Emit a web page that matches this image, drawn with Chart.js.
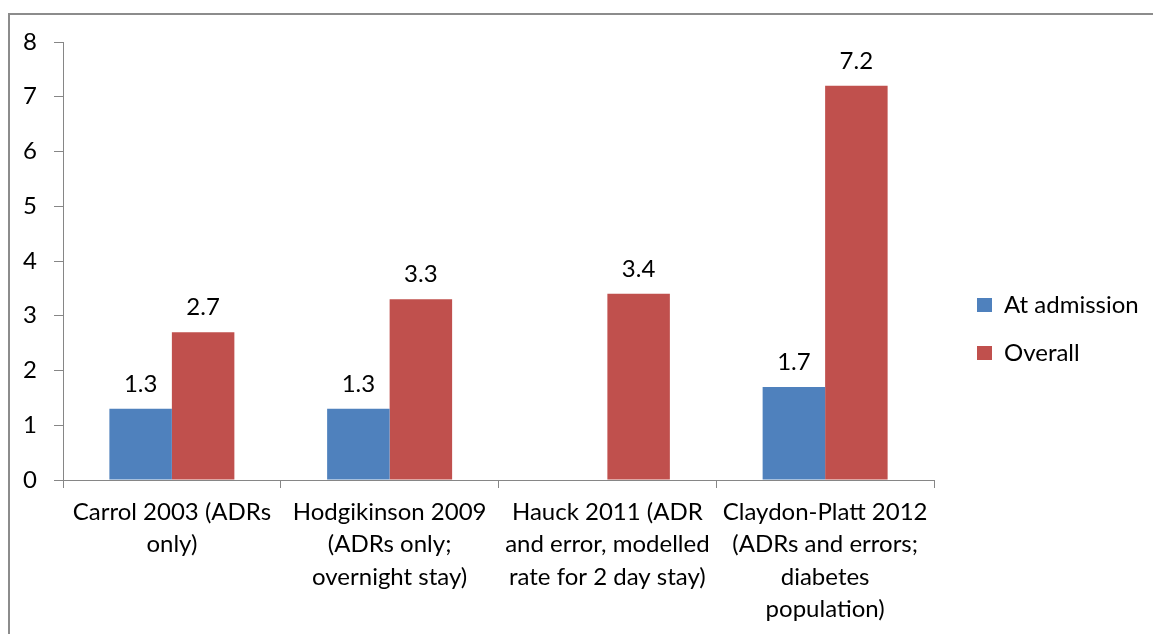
<!DOCTYPE html>
<html>
<head>
<meta charset="utf-8">
<script src="https://cdn.jsdelivr.net/npm/chart.js@4.4.0/dist/chart.umd.min.js"></script>
<style>
  body { margin: 0; background: #fff; }
  #wrap { position: relative; width: 1153px; height: 634px; overflow: hidden; }
  #frame {
    position: absolute; left: 8px; top: 13px; width: 1200px; height: 700px;
    border-top: 2px solid #8c8c8c; border-left: 2px solid #8c8c8c;
  }
  canvas { position: absolute; left: 0; top: 0; }
</style>
</head>
<body>
<div id="wrap">
  <div id="frame"></div>
  <canvas id="chart" width="1153" height="634"></canvas>
</div>
<script>
const categories = [
  ["Carrol 2003 (ADRs", "only)"],
  ["Hodgikinson 2009", "(ADRs only;", "overnight stay)"],
  ["Hauck 2011 (ADR", "and error, modelled", "rate for 2 day stay)"],
  ["Claydon-Platt 2012", "(ADRs and errors;", "diabetes", "population)"]
];
const atAdmission = [1.3, 1.3, null, 1.7];
const overall = [2.7, 3.3, 3.4, 7.2];
const yTicks = [0, 1, 2, 3, 4, 5, 6, 7, 8];

const FONT = "Lato, 'Open Sans', sans-serif";
const FSIZE = 24;
const axisGray = "#868686";

// value labels above each bar
const barValues = {
  id: "barValues",
  afterDatasetsDraw(chart) {
    const ctx = chart.ctx;
    ctx.save();
    ctx.font = FSIZE + "px " + FONT;
    ctx.fillStyle = "#000";
    ctx.textAlign = "center";
    ctx.textBaseline = "bottom";
    chart.data.datasets.forEach((ds, i) => {
      chart.getDatasetMeta(i).data.forEach((bar, j) => {
        const v = ds.data[j];
        if (v === null) return;
        ctx.fillText(v.toFixed(1), bar.x, bar.y - 13);
      });
    });
    ctx.restore();
  }
};

// keep plot area to the left of a fixed-width legend column
const legendPlace = {
  id: "legendPlace",
  beforeLayout(chart) {
    const lg = chart.legend;
    if (lg && !lg._wrapped) {
      const fit = lg.fit.bind(lg);
      lg.fit = function () { fit(); this.width = 219; };
      lg._wrapped = true;
    }
  },
  afterLayout(chart) {
    const lg = chart.legend;
    lg.left += 19;
    lg.right += 19;
    lg.top -= 9;
    lg.bottom -= 9;
  }
};

new Chart(document.getElementById("chart").getContext("2d"), {
  type: "bar",
  data: {
    labels: categories,
    datasets: [
      {
        label: "At admission",
        data: atAdmission,
        backgroundColor: "#4F81BD",
        categoryPercentage: 0.574,
        barPercentage: 1.0
      },
      {
        label: "Overall",
        data: overall,
        backgroundColor: "#C0504D",
        categoryPercentage: 0.574,
        barPercentage: 1.0
      }
    ]
  },
  options: {
    responsive: false,
    animation: false,
    layout: { padding: { top: 42, left: 0, right: 0, bottom: 0 } },
    plugins: {
      legend: {
        position: "right",
        labels: {
          color: "#000",
          boxWidth: 15,
          boxHeight: 14,
          padding: 24,
          font: { family: FONT, size: FSIZE }
        }
      },
      tooltip: { enabled: false }
    },
    scales: {
      x: {
        grid: { drawOnChartArea: false, tickLength: 8, color: axisGray },
        border: { color: axisGray, width: 1 },
        ticks: {
          color: "#000",
          maxRotation: 0,
          autoSkip: false,
          padding: 8,
          font: { family: FONT, size: FSIZE, lineHeight: 1.35 }
        },
        afterFit(scale) { scale.height = 154; }
      },
      y: {
        min: 0,
        max: 8,
        grid: { drawOnChartArea: false, tickLength: 9, color: axisGray },
        border: { color: axisGray, width: 1 },
        afterBuildTicks(scale) { scale.ticks = yTicks.map(v => ({ value: v })); },
        ticks: {
          color: "#000",
          padding: 17,
          font: { family: FONT, size: FSIZE }
        },
        afterFit(scale) { scale.width = 63; }
      }
    }
  },
  plugins: [barValues, legendPlace]
});
</script>
</body>
</html>
